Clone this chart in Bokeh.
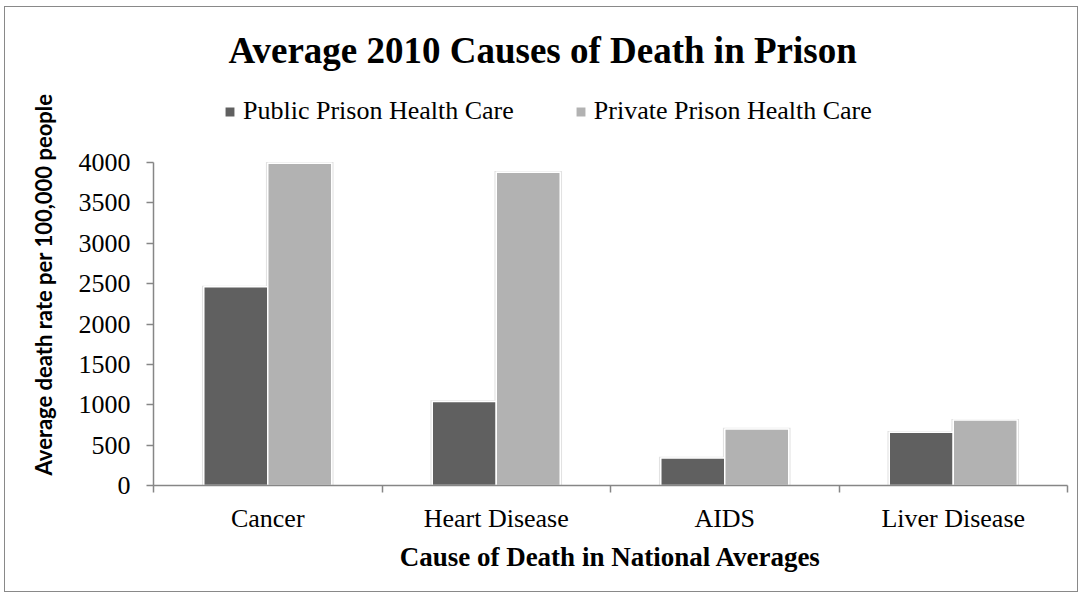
from bokeh.plotting import figure
from bokeh.models import (Range1d, LinearAxis, FixedTicker, Legend, LegendItem,
                          ColumnDataSource)
from bokeh.transform import dodge
from bokeh.embed import file_html
from bokeh.resources import INLINE

# ---- data ----
categories = ["Cancer", "Heart Disease", "AIDS", "Liver Disease"]
public_values = [2460, 1040, 340, 660]
private_values = [3990, 3880, 700, 810]
series_names = ["Public Prison Health Care", "Private Prison Health Care"]
y_ticks = [0, 500, 1000, 1500, 2000, 2500, 3000, 3500, 4000]
title_text = "Average 2010 Causes of Death in Prison"
x_title = "Cause of Death in National Averages"
y_title = "Average death rate per 100,000 people"

SERIF = "Liberation Serif"
AXIS_GREY = "#868686"
PUB_COLOR = "#606060"
PRIV_COLOR = "#b2b2b2"

# ---- layout (pixels) ----
W, H = 1074, 586
B_LEFT, B_RIGHT, B_TOP, B_BOTTOM = 148, 12, 76, 108
FRAME_H = H - B_TOP - B_BOTTOM
AXIS_PX = 323                      # pixel height of the 0..4000 axis
y_max = y_ticks[-1]
y_end = y_max * FRAME_H / AXIS_PX  # room above the axis for the legend

centers = [i + 0.5 for i in range(len(categories))]
source = ColumnDataSource(dict(
    x=centers,
    public=public_values,
    private=private_values,
    public_shadow=[v + 15 for v in public_values],
    private_shadow=[v + 15 for v in private_values],
))

p = figure(width=W, height=H,
           x_range=Range1d(0, len(categories)), y_range=Range1d(0, y_end),
           x_axis_type=None, output_backend="svg", toolbar_location=None,
           min_border_left=B_LEFT, min_border_right=B_RIGHT,
           min_border_top=B_TOP, min_border_bottom=B_BOTTOM)
p.margin = (6, 5, 5, 4)
p.styles = {"border": "1.5px solid #898989"}
p.outline_line_color = None
p.ygrid.visible = False
p.background_fill_color = "white"
p.border_fill_color = "white"

# title
p.title.text = title_text
p.title.text_font = SERIF
p.title.text_font_size = "37px"
p.title.text_font_style = "bold"
p.title.text_color = "black"
p.title.align = "left"
p.title.offset = 75
p.title.standoff = 25

# soft shadows
off = 0.14
bw = 0.28
p.vbar(x=dodge("x", -off, range=p.x_range), top="public_shadow", width=bw + 0.016,
       source=source, fill_color="#e2e2e2", line_color=None)
p.vbar(x=dodge("x", off, range=p.x_range), top="private_shadow", width=bw + 0.016,
       source=source, fill_color="#e2e2e2", line_color=None)

r_pub = p.vbar(x=dodge("x", -off, range=p.x_range), top="public", width=bw,
               source=source, fill_color=PUB_COLOR, line_color="white", line_width=1.5)
r_priv = p.vbar(x=dodge("x", off, range=p.x_range), top="private", width=bw,
                source=source, fill_color=PRIV_COLOR, line_color="white", line_width=1.5)

# y axis
yax = p.yaxis[0]
yax.bounds = (0, y_max)
yax.ticker = FixedTicker(ticks=y_ticks)
yax.major_label_text_font = SERIF
yax.major_label_text_font_size = "26px"
yax.major_label_text_color = "black"
yax.axis_line_color = AXIS_GREY
yax.axis_line_width = 1.5
yax.major_tick_line_color = AXIS_GREY
yax.major_tick_line_width = 1.5
yax.major_tick_out = 7
yax.major_tick_in = 0
yax.minor_tick_line_color = None
yax.major_label_standoff = 16
yax.axis_label = y_title
yax.axis_label_text_font = "Lato"
yax.axis_label_text_font_size = "22px"
yax.axis_label_text_font_style = "bold"
yax.axis_label_text_color = "black"
yax.axis_label_standoff = 19

# x axis (labels at category centres, ticks at category boundaries)
xax = LinearAxis(ticker=FixedTicker(ticks=centers,
                                    minor_ticks=list(range(len(categories) + 1))))
xax.major_label_overrides = {c: name for c, name in zip(centers, categories)}
xax.major_label_text_font = SERIF
xax.major_label_text_font_size = "26px"
xax.major_label_text_color = "black"
xax.axis_line_color = AXIS_GREY
xax.axis_line_width = 1.5
xax.major_tick_line_color = None
xax.major_tick_out = 0
xax.major_tick_in = 0
xax.minor_tick_line_color = AXIS_GREY
xax.minor_tick_line_width = 1.5
xax.minor_tick_out = 7
xax.minor_tick_in = 0
xax.major_label_standoff = 11
xax.axis_label = x_title
xax.axis_label_text_font = SERIF
xax.axis_label_text_font_size = "27px"
xax.axis_label_text_font_style = "bold"
xax.axis_label_text_color = "black"
xax.axis_label_standoff = 6
p.add_layout(xax, "below")

# legend (inside the frame, above the 4000 level)
legend = Legend(items=[LegendItem(label=series_names[0], renderers=[r_pub]),
                       LegendItem(label=series_names[1], renderers=[r_priv])],
                orientation="horizontal", location=(70, 359),
                padding=0, margin=0, spacing=60, label_standoff=7,
                glyph_width=13, glyph_height=13,
                border_line_color=None, background_fill_alpha=0,
                label_text_font=SERIF, label_text_font_size="26px",
                label_text_color="black")
p.add_layout(legend, "center")

open("out.html", "w").write(file_html(p, INLINE))
